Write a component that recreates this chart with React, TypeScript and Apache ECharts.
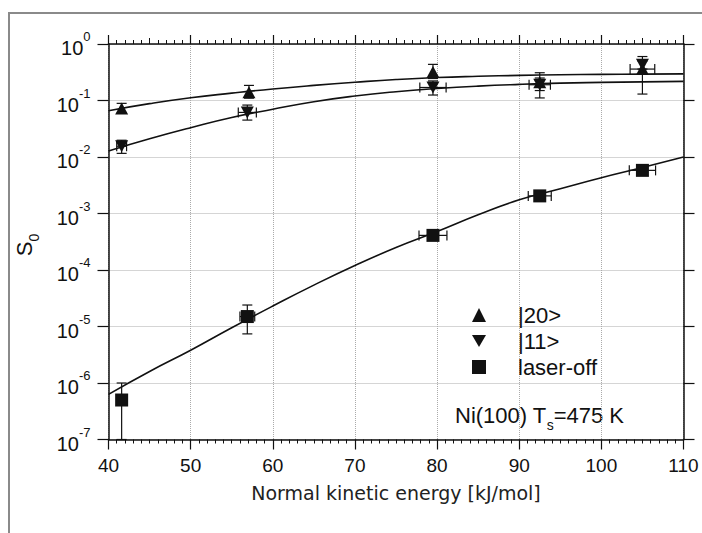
import React, { useEffect, useRef } from "react";
import * as echarts from "echarts";

// ---- data ----
const energy20 = [41.6, 57.1, 79.5, 92.5, 105.0];
const s20 = [0.072, 0.14, 0.32, 0.21, 0.36];
const s20Low = [0.06, 0.11, 0.245, 0.111, 0.13];
const s20High = [0.089, 0.185, 0.436, 0.31, 0.6];
const s20XErr = [0, 0, 0, 0, 1.5];

const energy11 = [41.6, 56.9, 79.5, 92.5, 105.0];
const s11 = [0.0155, 0.0615, 0.17, 0.19, 0.43];
const s11Low = [0.0116, 0.045, 0.125, 0.15, 0.36];
const s11High = [0.0198, 0.083, 0.222, 0.25, 0.5];
const s11XErr = [0.6, 1.1, 1.6, 1.3, 0];

const energyOff = [41.6, 56.9, 79.5, 92.5, 105.0];
const sOff = [5.0e-7, 1.5e-5, 4.1e-4, 2.05e-3, 5.8e-3];
const sOffLow = [1e-7, 7.4e-6, 4.1e-4, 2.05e-3, 5.8e-3];
const sOffHigh = [1.0e-6, 2.4e-5, 4.1e-4, 2.05e-3, 5.8e-3];
const sOffXErr = [0, 0.9, 1.7, 1.4, 1.6];

const fitEnergy = [40, 45, 50, 55, 60, 65, 70, 75, 80, 85, 90, 95, 100, 105, 110];
const fit20 = [0.066, 0.088, 0.112, 0.135, 0.16, 0.185, 0.21, 0.235, 0.255, 0.268, 0.278, 0.285, 0.29, 0.293, 0.296];
const fit11 = [0.0128, 0.021, 0.033, 0.05, 0.07, 0.095, 0.12, 0.143, 0.163, 0.18, 0.193, 0.203, 0.209, 0.214, 0.218];
const fitOff = [6.3e-7, 1.6e-6, 3.8e-6, 9.5e-6, 2.3e-5, 5.4e-5, 1.2e-4, 2.5e-4, 4.8e-4, 9.5e-4, 1.75e-3, 2.75e-3, 4.3e-3, 6.5e-3, 1.0e-2];

const xTicksMin = 40;
const xTicksMax = 110;
const yMin = 1e-7;
const yMax = 1;

const legendNames = ["|20>", "|11>", "laser-off"];
const xTitle = "Normal kinetic energy [kJ/mol]";

const FONT = "'Liberation Sans', Arial, sans-serif";
const INK = "#111";
const DOWN_TRI = "path://M0,0L20,0L10,17.3Z";

function zip(xs: number[], ys: number[]) {
  return xs.map((x, i) => [x, ys[i]]);
}
function errData(xs: number[], ys: number[], lo: number[], hi: number[], xe: number[]) {
  return xs.map((x, i) => [x, ys[i], lo[i], hi[i], xe[i]]);
}

function renderErr(params: any, api: any) {
  const x = api.value(0);
  const y = api.value(1);
  const lo = api.value(2);
  const hi = api.value(3);
  const xe = api.value(4);
  const c = api.coord([x, y]);
  const style = { stroke: INK, lineWidth: 1.2, fill: "none" };
  const children: any[] = [];
  const cap = 5;
  if (hi > lo) {
    const pHi = api.coord([x, hi]);
    const pLo = api.coord([x, lo]);
    children.push({ type: "line", shape: { x1: c[0], y1: pHi[1], x2: c[0], y2: pLo[1] }, style });
    children.push({ type: "line", shape: { x1: c[0] - cap, y1: pHi[1], x2: c[0] + cap, y2: pHi[1] }, style });
    children.push({ type: "line", shape: { x1: c[0] - cap, y1: pLo[1], x2: c[0] + cap, y2: pLo[1] }, style });
  }
  if (xe > 0) {
    const pL = api.coord([x - xe, y]);
    const pR = api.coord([x + xe, y]);
    children.push({ type: "line", shape: { x1: pL[0], y1: c[1], x2: pR[0], y2: c[1] }, style });
    children.push({ type: "line", shape: { x1: pL[0], y1: c[1] - cap, x2: pL[0], y2: c[1] + cap }, style });
    children.push({ type: "line", shape: { x1: pR[0], y1: c[1] - cap, x2: pR[0], y2: c[1] + cap }, style });
  }
  return { type: "group", children };
}

export default function App() {
  const ref = useRef<HTMLDivElement>(null);
  useEffect(() => {
    if (!ref.current) return;
    const chart = echarts.init(ref.current, null, { renderer: "svg" });
    const axisLine = { show: true, lineStyle: { color: INK, width: 1.5 } };
    const option: any = {
      animation: false,
      backgroundColor: "#fff",
      grid: { left: 108.5, right: 18.5, top: 44, bottom: 93.5, containLabel: false },
      xAxis: [
        {
          type: "value",
          position: "bottom",
          min: xTicksMin,
          max: xTicksMax,
          interval: 10,
          axisLine,
          axisTick: { show: true, inside: false, length: 10, lineStyle: { color: INK, width: 1.2 } },
          minorTick: { show: true, splitNumber: 10, length: 4, lineStyle: { color: INK, width: 1 } },
          axisLabel: { fontSize: 19, margin: 16, color: INK, fontFamily: FONT },
          splitLine: { show: true, lineStyle: { type: "dotted", color: "#aaa", width: 1 } },
          name: xTitle,
          nameLocation: "middle",
          nameGap: 44,
          nameTextStyle: { fontSize: 19, color: "#222", fontFamily: "'DejaVu Sans', sans-serif" },
        },
        {
          type: "value",
          position: "top",
          min: xTicksMin,
          max: xTicksMax,
          interval: 10,
          axisLine,
          axisTick: { show: true, inside: false, length: 9, lineStyle: { color: INK, width: 1.2 } },
          minorTick: { show: true, splitNumber: 10, length: 4, lineStyle: { color: INK, width: 1 } },
          axisLabel: { show: false },
          splitLine: { show: false },
        },
        {
          type: "value",
          position: "top",
          min: xTicksMin,
          max: xTicksMax,
          interval: 5,
          axisLine: { show: false },
          axisTick: { show: true, inside: false, length: 6, lineStyle: { color: INK, width: 1 } },
          axisLabel: { show: false },
          splitLine: { show: false },
        },
      ],
      yAxis: [
        {
          type: "log",
          logBase: 10,
          min: yMin,
          max: yMax,
          splitNumber: 7,
          position: "left",
          axisLine,
          axisTick: { show: true, inside: false, length: 11, lineStyle: { color: INK, width: 1.2 } },
          axisLabel: {
            margin: 18,
            color: INK,
            fontFamily: FONT,
            formatter: (v: number) => `{b|10}{s|${Math.round(Math.log10(v))}}`,
            rich: {
              b: { fontSize: 20, lineHeight: 28, verticalAlign: "bottom", fontFamily: FONT, color: INK },
              s: { fontSize: 13, lineHeight: 13, verticalAlign: "top", fontFamily: FONT, color: INK },
            },
          },
          splitLine: { show: true, lineStyle: { type: "dotted", color: "#aaa", width: 1 } },
        },
        {
          type: "log",
          logBase: 10,
          min: yMin,
          max: yMax,
          splitNumber: 7,
          position: "right",
          axisLine,
          axisTick: { show: true, inside: false, length: 11, lineStyle: { color: INK, width: 1.2 } },
          axisLabel: { show: false },
          splitLine: { show: false },
        },
      ],
      legend: {
        orient: "vertical",
        left: 467,
        top: 299,
        itemWidth: 14,
        itemHeight: 14,
        itemGap: 4,
        textStyle: { fontSize: 22, lineHeight: 22, color: INK, fontFamily: FONT, padding: [0, 0, 0, 27] },
        data: legendNames,
      },
      graphic: [
        {
          type: "rect",
          silent: true,
          shape: { x: 9, y: 13, width: 1200, height: 1200 },
          style: { fill: "none", stroke: "#8a8a8a", lineWidth: 2 },
        },
        {
          type: "text",
          x: 27,
          y: 245,
          rotation: Math.PI / 2,
          style: {
            text: "{a|S}{b|0}",
            align: "center",
            verticalAlign: "middle",
            rich: {
              a: { fontSize: 22, lineHeight: 28, verticalAlign: "top", fontFamily: FONT, fill: INK },
              b: { fontSize: 14, lineHeight: 14, verticalAlign: "bottom", fontFamily: FONT, fill: INK },
            },
          },
        },
        {
          type: "text",
          x: 455,
          y: 404,
          style: {
            text: "{a|Ni(100) T}{b|s}{a|=475 K}",
            align: "left",
            verticalAlign: "top",
            rich: {
              a: { fontSize: 22, lineHeight: 28, verticalAlign: "top", fontFamily: FONT, fill: INK },
              b: { fontSize: 14, lineHeight: 14, verticalAlign: "bottom", fontFamily: FONT, fill: INK },
            },
          },
        },
      ],
      series: [
        { type: "line", name: "fit20", data: zip(fitEnergy, fit20), smooth: true, showSymbol: false, symbol: "none", lineStyle: { color: INK, width: 1.6 }, z: 2, silent: true },
        { type: "line", name: "fit11", data: zip(fitEnergy, fit11), smooth: true, showSymbol: false, symbol: "none", lineStyle: { color: INK, width: 1.6 }, z: 2, silent: true },
        { type: "line", name: "fitOff", data: zip(fitEnergy, fitOff), smooth: true, showSymbol: false, symbol: "none", lineStyle: { color: INK, width: 1.6 }, z: 2, silent: true },
        { type: "custom", name: "err20", data: errData(energy20, s20, s20Low, s20High, s20XErr), renderItem: renderErr, encode: { x: 0, y: 1 }, z: 3, silent: true },
        { type: "custom", name: "err11", data: errData(energy11, s11, s11Low, s11High, s11XErr), renderItem: renderErr, encode: { x: 0, y: 1 }, z: 3, silent: true },
        { type: "custom", name: "errOff", data: errData(energyOff, sOff, sOffLow, sOffHigh, sOffXErr), renderItem: renderErr, encode: { x: 0, y: 1 }, z: 3, silent: true },
        { type: "scatter", name: legendNames[0], data: zip(energy20, s20), symbol: "triangle", symbolSize: [13, 12], itemStyle: { color: INK, opacity: 1 }, z: 4 },
        { type: "scatter", name: legendNames[1], data: zip(energy11, s11), symbol: DOWN_TRI, symbolSize: [13, 12], itemStyle: { color: INK, opacity: 1 }, z: 4 },
        { type: "scatter", name: legendNames[2], data: zip(energyOff, sOff), symbol: "rect", symbolSize: 13, itemStyle: { color: INK, opacity: 1 }, z: 4 },
      ],
    };
    chart.setOption(option);
    return () => chart.dispose();
  }, []);
  return <div ref={ref} style={{ position: "fixed", left: 0, top: 0, width: 702, height: 533 }} />;
}
